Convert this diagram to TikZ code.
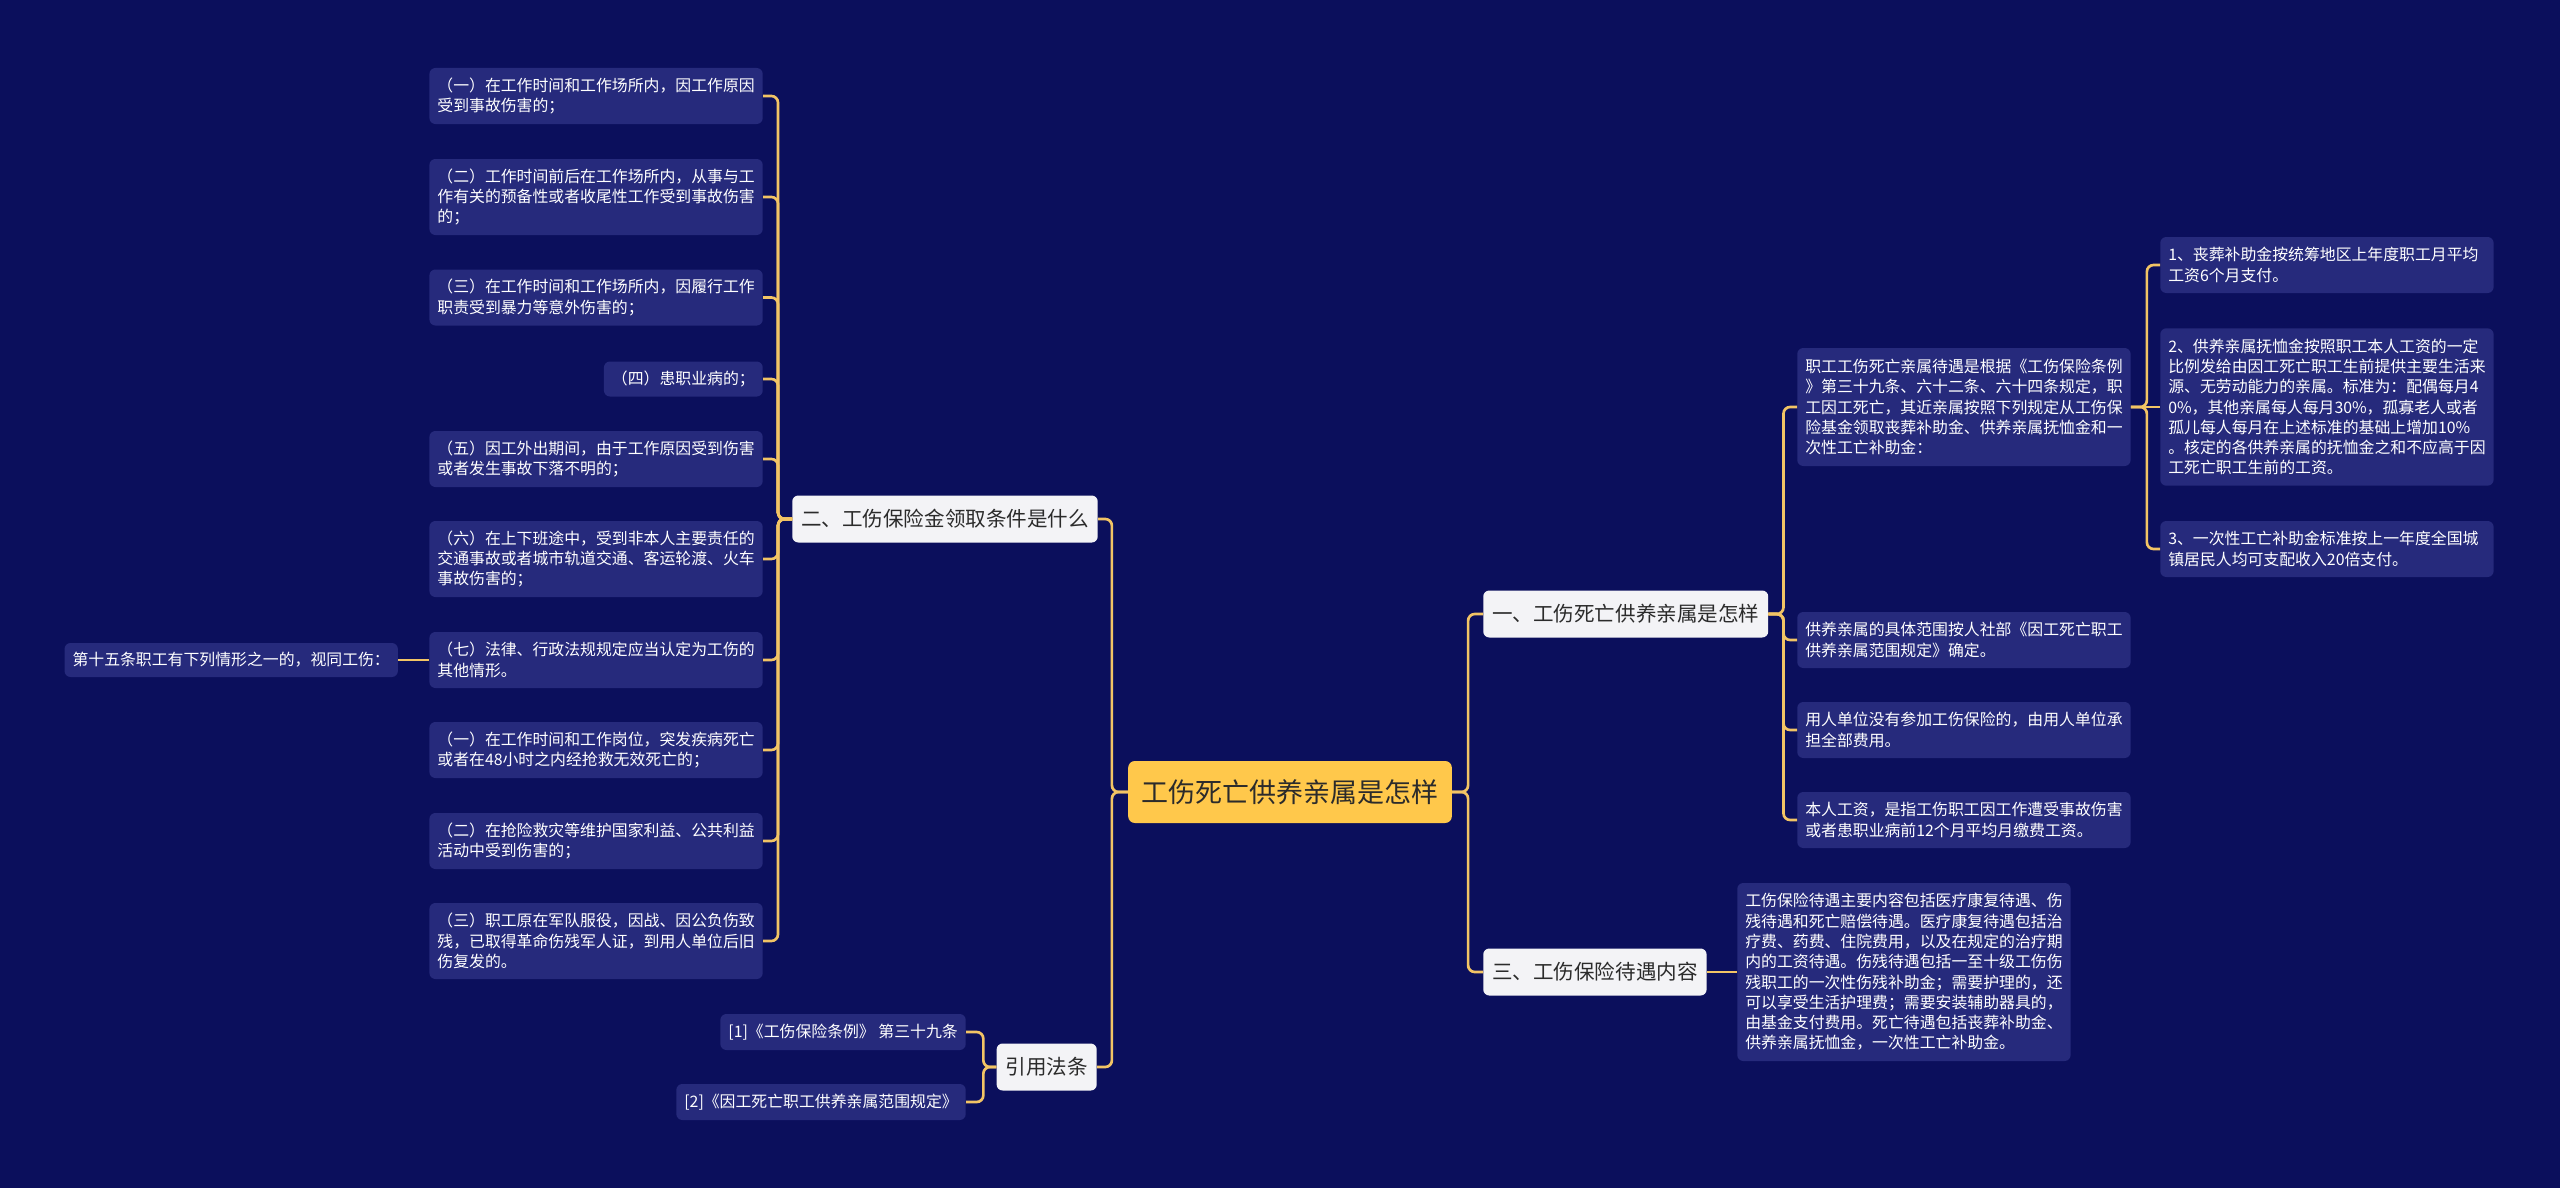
\documentclass[tikz,border=0pt]{standalone}
\usepackage{fontspec}
\newfontfamily\cjk{Noto Sans CJK SC}
\usepackage{xcolor}
\usetikzlibrary{positioning, calc}
\definecolor{bgblue}{HTML}{0B0F5C}
\definecolor{leafblue}{HTML}{262A7C}
\definecolor{linegold}{HTML}{F2C465}
\definecolor{rootgold}{HTML}{FFC84B}
\definecolor{branchwhite}{HTML}{F3F3F6}
\definecolor{darktext}{HTML}{2B2B2B}

\begin{document}
\begin{tikzpicture}[x=0.75pt, y=-0.75pt,
    conn/.style={draw=linegold, line width=2pt, rounded corners=5pt},
    leaf/.style={fill=leafblue, text=white, rounded corners=4.5pt, align=left,
        inner xsep=6pt, inner ysep=0pt, minimum height=42pt,
        font=\cjk\fontsize{11.9}{15.2}\selectfont},
    leafw/.style={leaf, text width=238pt},
    branch/.style={fill=branchwhite, text=darktext, rounded corners=4.5pt,
        inner xsep=6.75pt, inner ysep=0pt, minimum height=35.25pt,
        font=\cjk\fontsize{15.4}{18}\selectfont},
    rootnode/.style={fill=rootgold, text=darktext, rounded corners=5pt,
        inner xsep=10pt, inner ysep=0pt, minimum height=46.5pt,
        font=\cjk\fontsize{20.25}{24}\selectfont}]
    % Canvas
    \useasboundingbox (0,0) rectangle (2560,1188);
    \fill[bgblue] (0,0) rectangle (2560,1188);

    % Centre topic
    \node[rootnode] (root) at (1290,792) {工伤死亡供养亲属是怎样};

    % Left side: conditions
    \node[branch, anchor=west] (cond) at (792,519) {二、工伤保险金领取条件是什么};
    \node[leafw, anchor=east] (c1) at (763,96) {（一）在工作时间和工作场所内，因工作原因\\受到事故伤害的；};
    \node[leafw, anchor=east, minimum height=57pt] (c2) at (763,197) {（二）工作时间前后在工作场所内，从事与工\\作有关的预备性或者收尾性工作受到事故伤害\\的；};
    \node[leafw, anchor=east] (c3) at (763,297.5) {（三）在工作时间和工作场所内，因履行工作\\职责受到暴力等意外伤害的；};
    \node[leaf, anchor=east, minimum height=26.25pt] (c4) at (763,379) {（四）患职业病的；};
    \node[leafw, anchor=east] (c5) at (763,459) {（五）因工外出期间，由于工作原因受到伤害\\或者发生事故下落不明的；};
    \node[leafw, anchor=east, minimum height=57pt] (c6) at (763,559) {（六）在上下班途中，受到非本人主要责任的\\交通事故或者城市轨道交通、客运轮渡、火车\\事故伤害的；};
    \node[leafw, anchor=east] (c7) at (763,660) {（七）法律、行政法规规定应当认定为工伤的\\其他情形。};
    \node[leafw, anchor=east] (c8) at (763,750) {（一）在工作时间和工作岗位，突发疾病死亡\\或者在48小时之内经抢救无效死亡的；};
    \node[leafw, anchor=east] (c9) at (763,841) {（二）在抢险救灾等维护国家利益、公共利益\\活动中受到伤害的；};
    \node[leafw, anchor=east, minimum height=57pt] (c10) at (763,941) {（三）职工原在军队服役，因战、因公负伤致\\残，已取得革命伤残军人证，到用人单位后旧\\伤复发的。};
    \node[leafw, left=23.25pt of c7, minimum height=25.5pt] (art15) {第十五条职工有下列情形之一的，视同工伤：};

    % Left side: cited rules
    \node[branch, anchor=east] (cite) at (1097,1067) {引用法条};
    \node[leaf, anchor=east, minimum height=27pt] (ref1) at (966,1032) {[1]《工伤保险条例》 第三十九条};
    \node[leaf, anchor=east, minimum height=27pt] (ref2) at (966,1102) {[2]《因工死亡职工供养亲属范围规定》};

    % Right side
    \node[branch, anchor=west] (kin) at (1483,614) {一、工伤死亡供养亲属是怎样};
    \node[branch, anchor=west] (pay) at (1483,972) {三、工伤保险待遇内容};
    \node[leafw, anchor=west, minimum height=88.5pt] (k1) at (1797,407) {职工工伤死亡亲属待遇是根据《工伤保险条例\\》第三十九条、六十二条、六十四条规定，职\\工因工死亡，其近亲属按照下列规定从工伤保\\险基金领取丧葬补助金、供养亲属抚恤金和一\\次性工亡补助金：};
    \node[leafw, anchor=west] (k2) at (1797,640) {供养亲属的具体范围按人社部《因工死亡职工\\供养亲属范围规定》确定。};
    \node[leafw, anchor=west] (k3) at (1797,730) {用人单位没有参加工伤保险的，由用人单位承\\担全部费用。};
    \node[leafw, anchor=west] (k4) at (1797,820) {本人工资，是指工伤职工因工作遭受事故伤害\\或者患职业病前12个月平均月缴费工资。};
    \node[leafw, anchor=west] (s1) at (2160,265) {1、丧葬补助金按统筹地区上年度职工月平均\\工资6个月支付。};
    \node[leafw, anchor=west, minimum height=118pt] (s2) at (2160,407) {2、供养亲属抚恤金按照职工本人工资的一定\\比例发给由因工死亡职工生前提供主要生活来\\源、无劳动能力的亲属。标准为：配偶每月4\\0\%，其他亲属每人每月30\%，孤寡老人或者\\孤儿每人每月在上述标准的基础上增加10\%\\。核定的各供养亲属的抚恤金之和不应高于因\\工死亡职工生前的工资。};
    \node[leafw, anchor=west] (s3) at (2160,549) {3、一次性工亡补助金标准按上一年度全国城\\镇居民人均可支配收入20倍支付。};
    \node[leafw, anchor=west, minimum height=133.5pt] (p1) at (1737,972) {工伤保险待遇主要内容包括医疗康复待遇、伤\\残待遇和死亡赔偿待遇。医疗康复待遇包括治\\疗费、药费、住院费用，以及在规定的治疗期\\内的工资待遇。伤残待遇包括一至十级工伤伤\\残职工的一次性伤残补助金；需要护理的，还\\可以享受生活护理费；需要安装辅助器具的，\\由基金支付费用。死亡待遇包括丧葬补助金、\\供养亲属抚恤金，一次性工亡补助金。};

    % Connectors
    \draw[conn] (root.west) -- ++(-16,0) |- (cond.east);
    \draw[conn] (root.west) -- ++(-16,0) |- (cite.east);
    \draw[conn] (root.east) -- ++(16,0) |- (kin.west);
    \draw[conn] (root.east) -- ++(16,0) |- (pay.west);
    \foreach \n in {1,...,10}
        \draw[conn] (cond.west) -- ++(-14,0) |- (c\n.east);
    \draw[conn] (c7.west) -- (art15.east);
    \foreach \n in {1,2}
        \draw[conn] (cite.west) -- ++(-13,0) |- (ref\n.east);
    \foreach \n in {1,...,4}
        \draw[conn] (kin.east) -- ++(15,0) |- (k\n.west);
    \draw[conn] (k1.east) -- ++(16,0) |- (s1.west);
    \draw[conn] (k1.east) -- (s2.west);
    \draw[conn] (k1.east) -- ++(16,0) |- (s3.west);
    \draw[conn] (pay.east) -- (p1.west);
\end{tikzpicture}
\end{document}
